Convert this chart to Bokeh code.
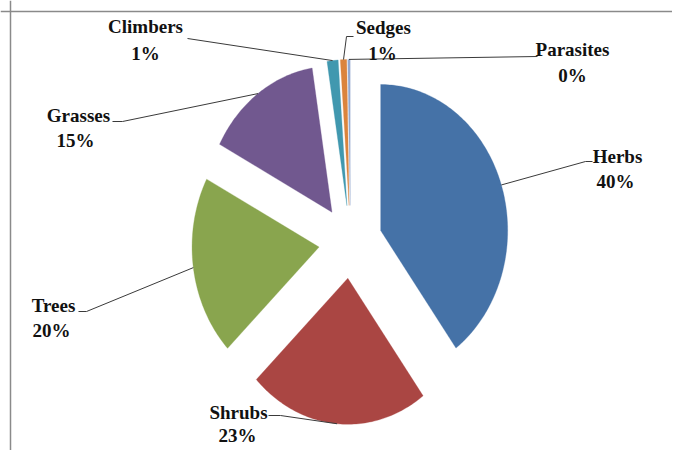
import numpy as np
from bokeh.plotting import figure
from bokeh.models import Range1d, Span, ColumnDataSource
from bokeh.core.properties import value
from bokeh.embed import file_html
from bokeh.resources import INLINE

# ---------------- data ----------------
categories = ["Herbs", "Shrubs", "Trees", "Grasses", "Climbers", "Sedges", "Parasites"]
shares = [39.9, 22.9, 19.9, 14.8, 1.4, 0.8, 0.3]
colors = ["#4572A7", "#AA4643", "#89A54E", "#71588F", "#4198AF", "#DB843D", "#93A9CF"]

# ---------------- layout (canvas pixel coordinates) ----------------
W, H = 672, 450
CX, CY = 350.0, 241.4      # pie centre
RX, RY = 127.0, 146.0      # horizontal / vertical radius (stretched pie)
EXPLODE = 0.25             # explosion as a fraction of radius
TEXT_DY = -7               # baseline correction for svg text

label_x = [617, 238, 53, 78, 145, 383, 572]
name_y = [163, 419, 312, 122, 33, 34, 56]
pct_x = [615, 237, 51, 75, 145, 382, 572]
pct_y = [188, 442, 337, 147, 60, 60, 82]
leader_tail = [
    [(585, 161), (592, 161)],
    [(280, 415), (268, 415)],
    [(86, 311), (78, 311)],
    [(122, 121), (112, 121)],
    [(187, 38)],
    [(346, 36), (353, 36)],
    [(537, 56)],
]

FONT = value("Liberation Serif")

p = figure(width=W, height=H, x_range=Range1d(0, W), y_range=Range1d(H, 0),
           x_axis_type=None, y_axis_type=None, output_backend="svg",
           toolbar_location=None, min_border=0)
p.grid.visible = False
p.outline_line_color = None
p.background_fill_color = "white"
p.border_fill_color = "white"

# chart-area border (top and left visible)
p.add_layout(Span(location=11, dimension="width", line_color="#8a8a8a", line_width=1.5))
p.add_layout(Span(location=10, dimension="height", line_color="#8a8a8a", line_width=1.5))

total = float(sum(shares))
cum = np.concatenate([[0.0], np.cumsum(shares)]) / total * 2 * np.pi

xs, ys, mids = [], [], []
for i in range(len(shares)):
    t0, t1 = cum[i], cum[i + 1]
    tm = 0.5 * (t0 + t1)
    ax = CX + EXPLODE * RX * np.sin(tm)
    ay = CY - EXPLODE * RY * np.cos(tm)
    n = max(3, int(np.degrees(t1 - t0)))
    t = np.linspace(t0, t1, n)
    px = np.concatenate([[ax], ax + RX * np.sin(t)])
    py = np.concatenate([[ay], ay - RY * np.cos(t)])
    xs.append(list(px))
    ys.append(list(py))
    mids.append((ax + RX * np.sin(tm), ay - RY * np.cos(tm)))

src = ColumnDataSource(dict(xs=xs, ys=ys, color=colors, name=categories))
p.patches("xs", "ys", source=src, fill_color="color", line_color="color",
          line_width=0.5, line_alpha=0.6)

# leader lines
lx, ly = [], []
for (mx, my), tail in zip(mids, leader_tail):
    lx.append([mx] + [pt[0] for pt in tail])
    ly.append([my] + [pt[1] for pt in tail])
p.multi_line(lx, ly, line_color="#3a3a3a", line_width=1)

pct_text = [f"{round(s)}%" for s in shares]
p.text(x=label_x, y=[v + TEXT_DY for v in name_y], text=categories, text_font=FONT,
       text_font_style="bold", text_font_size="19px", text_align="center",
       text_baseline="alphabetic", text_color="#111111")
p.text(x=pct_x, y=[v + TEXT_DY for v in pct_y], text=pct_text, text_font=FONT,
       text_font_style="bold", text_font_size="19px", text_align="center",
       text_baseline="alphabetic", text_color="#111111")

open("out.html", "w").write(file_html(p, INLINE))
